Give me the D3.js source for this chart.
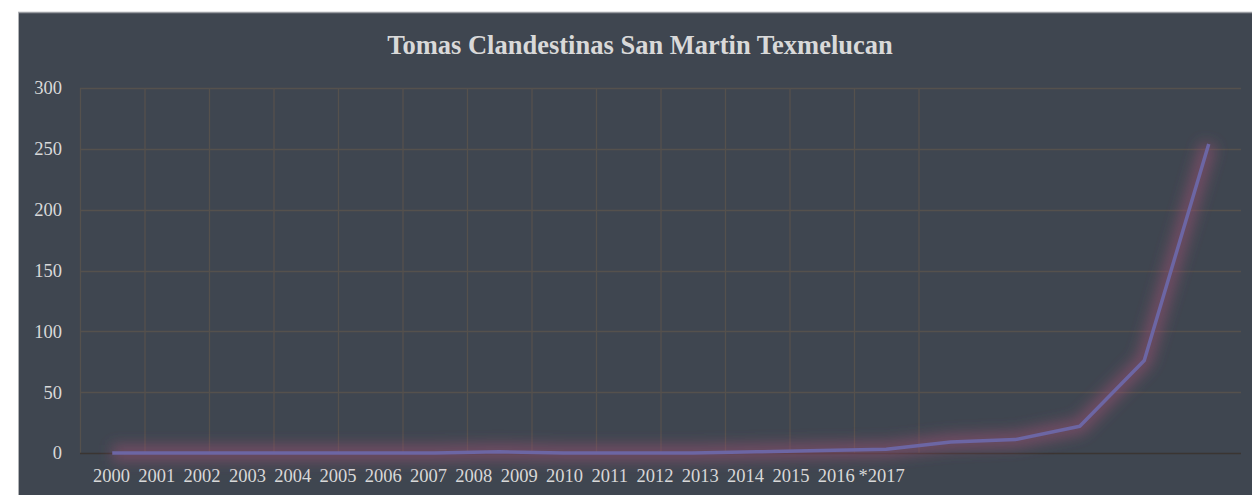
<!DOCTYPE html>
<html><head><meta charset="utf-8">
<script src="https://cdn.jsdelivr.net/npm/d3@7"></script>
<style>
html,body{margin:0;padding:0;background:#fff;}
svg{display:block;}
</style></head>
<body>
<svg id="c" width="1252" height="495"></svg>
<script>
const title = "Tomas Clandestinas San Martin Texmelucan";
const categories = ["2000","2001","2002","2003","2004","2005","2006","2007","2008","2009","2010","2011","2012","2013","2014","2015","2016","*2017"];
const values = [0,0,0,0,0,0,1,0,0,0,1,2,3,9,11,22,76,254];
const yTicks = [0,50,100,150,200,250,300];

const svg = d3.select("#c");
const W = 1252, H = 495;
const FONT = "'Liberation Serif','Times New Roman',serif";
const defs = svg.append("defs");
const f = defs.append("filter").attr("id","glow").attr("x","-30%").attr("y","-30%").attr("width","160%").attr("height","160%");
f.append("feGaussianBlur").attr("stdDeviation",7);

// frame
svg.append("rect").attr("x",18).attr("y",12).attr("width",W-18).attr("height",H-12).attr("fill","#3f4650");
svg.append("line").attr("x1",18).attr("x2",W).attr("y1",12.5).attr("y2",12.5).attr("stroke","#9a9da2").attr("stroke-width",1.5);
svg.append("line").attr("x1",18.5).attr("x2",18.5).attr("y1",12).attr("y2",H).attr("stroke","#b0b2b5").attr("stroke-width",1);

const x = d3.scaleBand().domain(categories).range([80,1241]).paddingInner(0).paddingOuter(0);
const y = d3.scaleLinear().domain([0,300]).range([453,88]);
const xl = d3.scalePoint().domain(categories).range([111,881]);

// title
svg.append("text").attr("x",640).attr("y",54).attr("text-anchor","middle")
  .attr("font-family",FONT).attr("font-weight","bold")
  .attr("font-size",26.5).attr("fill","#d9d9d9").text(title);

const grid = svg.append("g");
grid.selectAll("line.h").data(yTicks.filter(d=>d>0)).join("line").attr("class","h")
  .attr("x1",80).attr("x2",1241).attr("y1",d=>Math.round(y(d))+0.5).attr("y2",d=>Math.round(y(d))+0.5)
  .attr("stroke","#55514d").attr("stroke-width",1.3);
grid.selectAll("line.v").data(categories.slice(0,14)).join("line").attr("class","v")
  .attr("x1",d=>x(d)+0.5).attr("x2",d=>x(d)+0.5).attr("y1",y(300)).attr("y2",y(0))
  .attr("stroke","#55514d").attr("stroke-width",1.3);
grid.append("line").attr("x1",80).attr("x2",1241).attr("y1",y(0)+0.5).attr("y2",y(0)+0.5)
  .attr("stroke","#3a3532").attr("stroke-width",1.3);

// y axis
const ya = svg.append("g").attr("transform","translate(62,0)")
  .call(d3.axisLeft(y).tickValues(yTicks).tickSize(0).tickPadding(0));
ya.select(".domain").remove();
ya.selectAll("text").attr("font-family",FONT).attr("font-size",18.5).attr("fill","#d9d9d9");

// x labels
const xa = svg.append("g").attr("transform","translate(0,469)")
  .call(d3.axisBottom(xl).tickSize(0).tickPadding(0));
xa.select(".domain").remove();
xa.selectAll("text").attr("font-family",FONT).attr("font-size",18.5).attr("fill","#d9d9d9");

// line
const line = d3.line().x((d,i)=>x(categories[i])+x.bandwidth()/2).y(d=>y(d));
svg.append("path").datum(values).attr("d",line).attr("fill","none")
  .attr("stroke","#94506f").attr("stroke-width",16).attr("stroke-opacity",0.6)
  .attr("stroke-linejoin","round").attr("filter","url(#glow)");
svg.append("path").datum(values).attr("d",line).attr("fill","none")
  .attr("stroke","#6c66a4").attr("stroke-width",3.5).attr("stroke-linejoin","round");
</script>
</body></html>
